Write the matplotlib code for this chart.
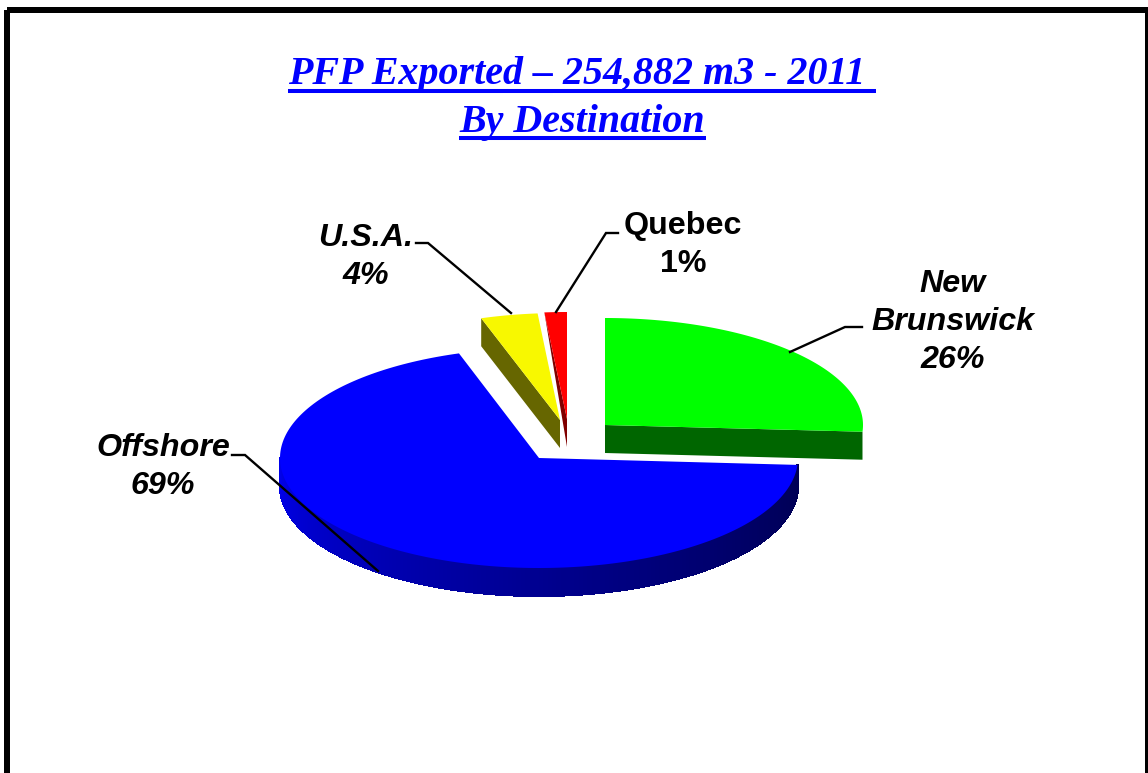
import numpy as np
from matplotlib import pyplot as plt
from matplotlib.patches import Polygon, Rectangle

title_lines = ['PFP Exported \u2013 254,882 m3 - 2011 ', 'By Destination']
categories = ['New\nBrunswick\n26%', 'Offshore\n69%', 'U.S.A.\n4%', 'Quebec\n1%']
values = [26, 69, 3.6, 1.4]
top_colors = ['#00ff00', '#0000ff', '#f8f800', '#ff0000']
side_colors = ['#006600', '#000080', '#666600', '#800000']

# slice centres in pixels (each one is pulled out by a different amount)
centers = [(605, 425), (539, 458), (560, 420), (567, 419)]
radii = [(258, 107), (259, 110), (255, 107), (258, 107)]
depth = 28

angles = np.concatenate([[0], np.cumsum(values)]) / sum(values) * 360


def rim(i, t):
    t = np.radians(t)
    cx, cy = centers[i]
    rx, ry = radii[i]
    return np.column_stack([cx + rx * np.sin(t), cy - ry * np.cos(t)])


def top_face(i):
    ts = np.linspace(angles[i], angles[i + 1], 200)
    return np.vstack([[centers[i]], rim(i, ts)])


fig = plt.figure(figsize=(11.48, 7.73), dpi=100)
ax = fig.add_axes([0, 0, 1, 1])
ax.set_xlim(0, 1148)
ax.set_ylim(773, 0)
ax.axis('off')

# frame
ax.add_patch(Rectangle((7, 10), 1141, 800, fill=False, ec='black', lw=4.32, clip_on=True))

# offshore: curved side, lighter on the left
ts = np.linspace(angles[1], 270, 180)
for a, b in zip(ts[:-1], ts[1:]):
    p = rim(1, np.array([a, b]))
    frac = (a - angles[1]) / (270 - angles[1])
    col = (0, 0, (85 + 150 * frac ** 1.3) / 255)
    ax.add_patch(Polygon(np.vstack([p, p[::-1] + [0, depth]]), fc=col, ec=col, lw=0.8, antialiased=False))
ax.add_patch(Polygon(top_face(1), fc=top_colors[1], ec='none'))

# usa
p = rim(2, angles[2])[0]
c = np.array(centers[2])
ax.add_patch(Polygon([p, c, c + [0, depth], p + [0, depth]], fc=side_colors[2], ec='none'))
ax.add_patch(Polygon(top_face(2), fc=top_colors[2], ec='none'))

# quebec
p = rim(3, angles[3])[0]
c = np.array(centers[3])
ax.add_patch(Polygon([p, c, c + [0, depth]], fc=side_colors[3], ec='none'))
ax.add_patch(Polygon(top_face(3), fc=top_colors[3], ec='none'))

# new brunswick
p = rim(0, angles[1])[0]
c = np.array(centers[0])
ax.add_patch(Polygon([c, p, p + [0, depth], c + [0, depth]], fc=side_colors[0], ec='none'))
ax.add_patch(Polygon(top_face(0), fc=top_colors[0], ec='none'))

# leader lines
leaders = [([862, 845, 790], [327, 327, 352]),
           ([232, 245, 378], [455, 455, 571]),
           ([416, 428, 511], [243, 243, 313]),
           ([618, 606, 556], [233, 233, 312])]
for lx, ly in leaders:
    ax.plot(lx, ly, color='black', lw=1.7, solid_joinstyle='miter')

# labels
label_pos = [(953, 322), (163, 467), (366, 257), (683, 245)]
label_style = ['italic', 'italic', 'italic', 'normal']
for name, pos, st in zip(categories, label_pos, label_style):
    ax.text(pos[0], pos[1], name, ha='center', va='center', multialignment='center',
            family='Liberation Sans', weight='bold', style=st, fontsize=23.2, linespacing=1.34)

# title, underlines drawn by hand
ax.text(582, 84, title_lines[0], ha='center', va='baseline', color='#0000ff',
        family='Liberation Serif', weight='bold', style='italic', fontsize=28.8)
ax.text(582, 132, title_lines[1], ha='center', va='baseline', color='#0000ff',
        family='Liberation Serif', weight='bold', style='italic', fontsize=28.8)
ax.plot([288, 876], [90.5, 90.5], color='#0000ff', lw=2.9, solid_capstyle='butt')
ax.plot([459, 706], [138, 138], color='#0000ff', lw=2.9, solid_capstyle='butt')

fig.savefig('out.png', dpi=100)
